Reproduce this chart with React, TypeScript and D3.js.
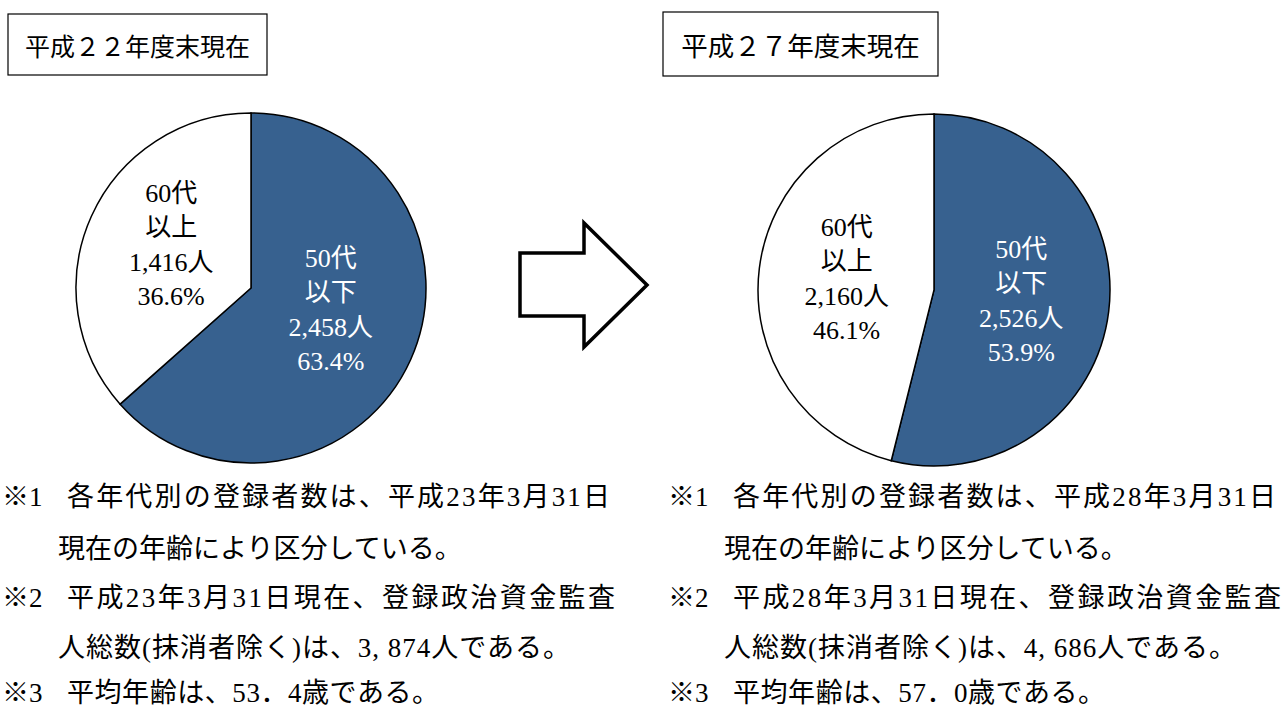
import React from 'react';
import * as d3 from 'd3';

const ageGroups = ['50代', '60代'];
const ageSuffix = ['以下', '以上'];
const counts22 = [2458, 1416];
const counts27 = [2526, 2160];
const titles = ['平成２２年度末現在', '平成２７年度末現在'];

const notes22 = [
  ['※1', '各年代別の登録者数は、平成23年3月31日'],
  ['', '現在の年齢により区分している。'],
  ['※2', '平成23年3月31日現在、登録政治資金監査'],
  ['', '人総数(抹消者除く)は、3, 874人である。'],
  ['※3', '平均年齢は、53．4歳である。'],
];
const notes27 = [
  ['※1', '各年代別の登録者数は、平成28年3月31日'],
  ['', '現在の年齢により区分している。'],
  ['※2', '平成28年3月31日現在、登録政治資金監査'],
  ['', '人総数(抹消者除く)は、4, 686人である。'],
  ['※3', '平均年齢は、57．0歳である。'],
];

const W = 1283;
const H = 707;
const BLUE = '#37618f';
const serif = "'Liberation Serif', 'DejaVu Serif', 'Noto Sans CJK JP', serif";
const gothic = "'Noto Sans CJK JP', sans-serif";

// layout per panel
const panels = [
  { title: titles[0], titleSize: 25, counts: counts22, notes: notes22, box: [8, 14, 259, 61], cx: 251, cy: 288, r: 175, nx: 2, labelDy: [-14, -7] },
  { title: titles[1], titleSize: 26.5, counts: counts27, notes: notes27, box: [663, 12, 275, 64], cx: 934, cy: 290, r: 176, nx: 668, labelDy: [0, 0] },
];

const noteY = [497, 549, 598, 648, 693];
// stretched widths for the lines that carry spaced-out numbers
const noteLen = [543, 0, 548, 512, 372];

const fmt = d3.format(',');

function Pie({ counts, cx, cy, r, labelDy }: { counts: number[]; cx: number; cy: number; r: number; labelDy: number[] }) {
  const total = d3.sum(counts);
  const arcs = d3.pie<number>().sort(null).value((d) => d)(counts);
  const arc = d3.arc<d3.PieArcDatum<number>>().innerRadius(0).outerRadius(r);
  const labelArc = d3.arc<d3.PieArcDatum<number>>().innerRadius(r * 0.5).outerRadius(r * 0.5);
  const lineH = 34.5;
  return (
    <g transform={`translate(${cx},${cy})`}>
      {arcs.map((a, i) => (
        <path key={i} d={arc(a) || ''} fill={i === 0 ? BLUE : '#fff'} stroke="#000" strokeWidth={1.5} />
      ))}
      {arcs.map((a, i) => {
        const [lx, c] = labelArc.centroid(a);
        const ly = c + labelDy[i];
        const lines = [ageGroups[i], ageSuffix[i], fmt(counts[i]) + '人', ((counts[i] / total) * 100).toFixed(1) + '%'];
        return (
          <text key={'t' + i} x={lx} y={ly} textAnchor="middle" fontFamily={serif} fontSize={26}
            fill={i === 0 ? '#fff' : '#000'}>
            {lines.map((s, j) => (
              <tspan key={j} x={lx} y={ly + (j - 1.5) * lineH} dominantBaseline="central">{s}</tspan>
            ))}
          </text>
        );
      })}
    </g>
  );
}

export default function App() {
  const arrow = d3.path();
  arrow.moveTo(520, 253);
  arrow.lineTo(584, 253);
  arrow.lineTo(584, 223);
  arrow.lineTo(647, 285);
  arrow.lineTo(584, 347);
  arrow.lineTo(584, 316);
  arrow.lineTo(520, 316);
  arrow.closePath();

  return (
    <svg width={W} height={H} style={{ position: 'absolute', left: 0, top: 0, background: '#fff' }}>
      <rect width={W} height={H} fill="#fff" />
      {panels.map((p, k) => (
        <g key={k}>
          <rect x={p.box[0]} y={p.box[1]} width={p.box[2]} height={p.box[3]} fill="#fff" stroke="#000" strokeWidth={1.2} />
          <text x={p.box[0] + p.box[2] / 2} y={p.box[1] + p.box[3] / 2} textAnchor="middle" dominantBaseline="central"
            fontFamily={gothic} fontSize={p.titleSize} fill="#000">{p.title}</text>
          <Pie counts={p.counts} cx={p.cx} cy={p.cy} r={p.r} labelDy={p.labelDy} />
          {p.notes.map((n, j) => (
            <g key={j}>
              {n[0] && (
                <text x={p.nx} y={noteY[j]} dominantBaseline="central" fontFamily={serif} fontSize={27} fill="#000">{n[0]}</text>
              )}
              <text x={p.nx + (n[0] ? 65 : 56)} y={noteY[j]} dominantBaseline="central" fontFamily={serif} fontSize={27} fill="#000"
                {...(noteLen[j] ? { textLength: noteLen[j], lengthAdjust: 'spacing' } : {})}>{n[1]}</text>
            </g>
          ))}
        </g>
      ))}
      <path d={arrow.toString()} fill="#fff" stroke="#000" strokeWidth={3.5} strokeLinejoin="miter" />
    </svg>
  );
}
